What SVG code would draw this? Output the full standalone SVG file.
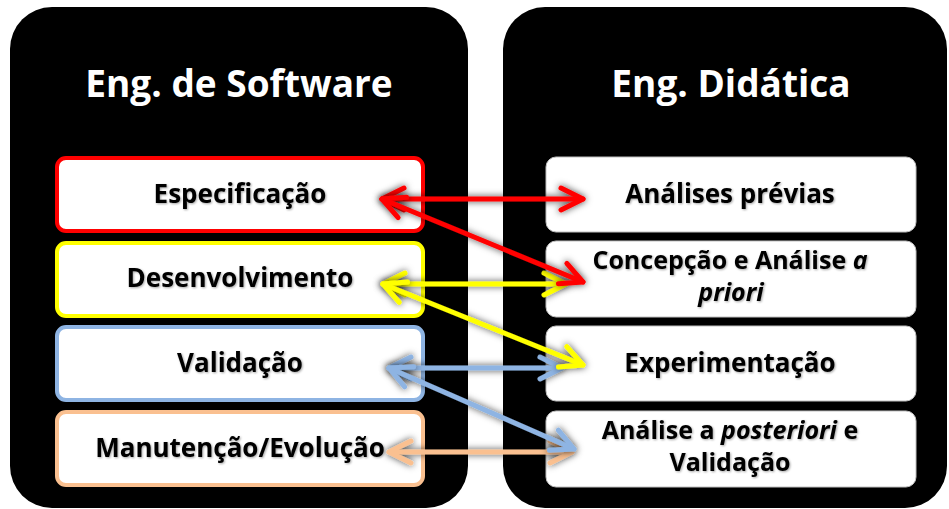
<svg xmlns="http://www.w3.org/2000/svg" width="949" height="509" viewBox="0 0 949 509">
<style>
.panel{fill:#000}
.title{font-family:"Open Sans","Liberation Sans",sans-serif;font-weight:bold;font-size:37px;fill:#fff;text-anchor:middle}
.lbl{font-family:"Open Sans","Liberation Sans",sans-serif;font-weight:bold;font-size:26px;fill:#000;text-anchor:middle;filter:url(#ts)}
.two{font-size:25px}
.lbox{fill:#fff;stroke-width:4}
.rbox{fill:#fff;stroke:#bfbfbf;stroke-width:1}
.arr{fill:none;stroke-width:5;stroke-linecap:round;stroke-linejoin:round}
.it{font-style:italic}
</style>
<defs>
<filter id="glow" filterUnits="userSpaceOnUse" x="0" y="0" width="949" height="509">
<feGaussianBlur in="SourceAlpha" stdDeviation="3.5" result="b"/>
<feFlood flood-color="#000" flood-opacity="0.75"/>
<feComposite in2="b" operator="in" result="s"/>
<feMerge><feMergeNode in="s"/><feMergeNode in="SourceGraphic"/></feMerge>
</filter>
<filter id="ts" x="-10%" y="-30%" width="120%" height="160%">
<feDropShadow dx="1" dy="1" stdDeviation="0.8" flood-color="#000" flood-opacity="0.35"/>
</filter>
<marker id="mR" markerUnits="userSpaceOnUse" markerWidth="40" markerHeight="40" refX="0" refY="0" orient="auto-start-reverse" overflow="visible"><path d="M-22,-11 L0,0 L-22,11" fill="none" stroke="#ff0000" stroke-width="5" stroke-linecap="round" stroke-linejoin="round"/></marker>
<marker id="mY" markerUnits="userSpaceOnUse" markerWidth="40" markerHeight="40" refX="0" refY="0" orient="auto-start-reverse" overflow="visible"><path d="M-22,-11 L0,0 L-22,11" fill="none" stroke="#ffff00" stroke-width="5" stroke-linecap="round" stroke-linejoin="round"/></marker>
<marker id="mB" markerUnits="userSpaceOnUse" markerWidth="40" markerHeight="40" refX="0" refY="0" orient="auto-start-reverse" overflow="visible"><path d="M-22,-11 L0,0 L-22,11" fill="none" stroke="#8eb4e3" stroke-width="5" stroke-linecap="round" stroke-linejoin="round"/></marker>
<marker id="mO" markerUnits="userSpaceOnUse" markerWidth="40" markerHeight="40" refX="0" refY="0" orient="auto-start-reverse" overflow="visible"><path d="M-22,-11 L0,0 L-22,11" fill="none" stroke="#fac090" stroke-width="5" stroke-linecap="round" stroke-linejoin="round"/></marker>
</defs>
<rect width="949" height="509" fill="#fff"/>
<g id="panel-software">
<rect class="panel" x="10" y="7" width="458" height="501" rx="42"/>
<text class="title" x="239" y="97">Eng. de Software</text>
</g>
<g id="panel-didatica">
<rect class="panel" x="503" y="7" width="444" height="501" rx="42"/>
<text class="title" x="731" y="97">Eng. Didática</text>
</g>
<g id="n-especificacao"><rect class="lbox" x="57" y="158" width="366" height="73" rx="9" stroke="#ff0000"/><text class="lbl" x="240" y="203">Especificação</text></g>
<g id="n-desenvolvimento"><rect class="lbox" x="57" y="243" width="366" height="73" rx="9" stroke="#ffff00"/><text class="lbl" x="240" y="287">Desenvolvimento</text></g>
<g id="n-validacao"><rect class="lbox" x="57" y="327" width="366" height="73" rx="9" stroke="#8eb4e3"/><text class="lbl" x="240" y="372">Validação</text></g>
<g id="n-manutencao"><rect class="lbox" x="57" y="412" width="366" height="73" rx="9" stroke="#fac090"/><text class="lbl" x="240" y="457">Manutenção/Evolução</text></g>
<g id="n-analises"><rect class="rbox" x="546" y="157" width="370" height="75" rx="10"/><text class="lbl" x="730" y="203">Análises prévias</text></g>
<g id="n-concepcao"><rect class="rbox" x="546" y="241" width="370" height="76" rx="10"/><text class="lbl two" x="730" y="269">Concepção e Análise <tspan class="it">a</tspan></text><text class="lbl two it" x="731" y="301">priori</text></g>
<g id="n-experimentacao"><rect class="rbox" x="546" y="326" width="370" height="75" rx="10"/><text class="lbl" x="730" y="372">Experimentação</text></g>
<g id="n-posteriori"><rect class="rbox" x="546" y="411" width="370" height="76" rx="10"/><text class="lbl two" x="730" y="439">Análise a <tspan class="it">posteriori</tspan> e</text><text class="lbl two" x="730" y="471">Validação</text></g>
<g id="connectors">
<g filter="url(#glow)"><line class="arr" x1="389" y1="452" x2="572" y2="452" stroke="#fac090" marker-start="url(#mO)" marker-end="url(#mO)"/></g>
<g filter="url(#glow)"><line class="arr" x1="389" y1="368" x2="562" y2="368" stroke="#8eb4e3" marker-start="url(#mB)" marker-end="url(#mB)"/></g>
<g filter="url(#glow)"><line class="arr" x1="389" y1="368" x2="574" y2="449" stroke="#8eb4e3" marker-start="url(#mB)" marker-end="url(#mB)"/></g>
<g filter="url(#glow)"><line class="arr" x1="383" y1="284" x2="566" y2="284" stroke="#ffff00" marker-start="url(#mY)" marker-end="url(#mY)"/></g>
<g filter="url(#glow)"><line class="arr" x1="383" y1="284" x2="583" y2="365" stroke="#ffff00" marker-start="url(#mY)" marker-end="url(#mY)"/></g>
<g filter="url(#glow)"><line class="arr" x1="382" y1="199" x2="583" y2="199" stroke="#ff0000" marker-start="url(#mR)" marker-end="url(#mR)"/></g>
<g filter="url(#glow)"><line class="arr" x1="382" y1="199" x2="583" y2="282" stroke="#ff0000" marker-start="url(#mR)" marker-end="url(#mR)"/></g>
</g>
</svg>
